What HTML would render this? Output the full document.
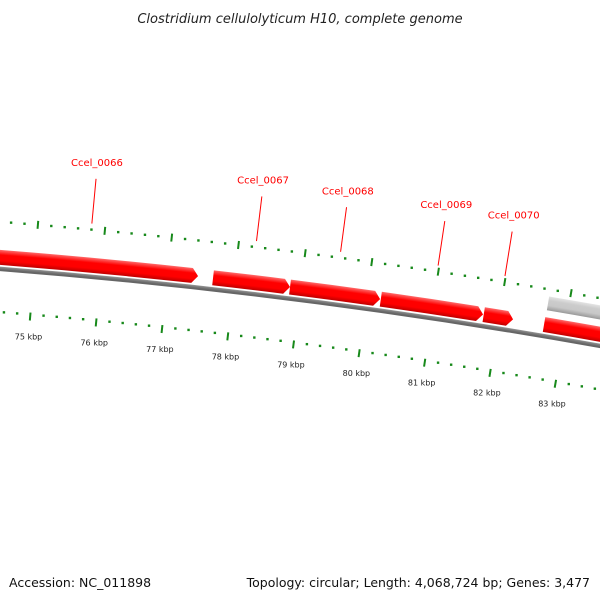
<!DOCTYPE html>
<html><head><meta charset="utf-8"><style>
html,body{margin:0;padding:0;background:#fff;}
svg{display:block;font-family:"DejaVu Sans","Liberation Sans",sans-serif;}
</style></head><body>
<svg id="chart" width="600" height="600" viewBox="0 0 600 600" xmlns="http://www.w3.org/2000/svg">
<defs>
<radialGradient id="redGrad" gradientUnits="userSpaceOnUse" cx="-482" cy="6401" r="6200">
<stop offset="0.99266" stop-color="#b80000"/>
<stop offset="0.99345" stop-color="#f00"/>
<stop offset="0.99435" stop-color="#f00"/>
<stop offset="0.99516" stop-color="#ff6a6a"/>
</radialGradient>
<radialGradient id="grayGrad" gradientUnits="userSpaceOnUse" cx="-482" cy="6401" r="6200">
<stop offset="0.99629" stop-color="#999"/>
<stop offset="0.99710" stop-color="#c8c8c8"/>
<stop offset="0.99790" stop-color="#ccc"/>
<stop offset="0.99855" stop-color="#e4e4e4"/>
</radialGradient>
<radialGradient id="bbGrad" gradientUnits="userSpaceOnUse" cx="-482" cy="6401" r="6200">
<stop offset="0.99198" stop-color="#666"/>
<stop offset="0.99235" stop-color="#888"/>
<stop offset="0.99265" stop-color="#bbb"/>
</radialGradient>
</defs>
<text x="300" y="23" text-anchor="middle" font-size="13" font-style="italic" fill="#222">Clostridium cellulolyticum H10, complete genome</text>
<g id="backbone"></g>
<g id="genes"></g>
<g id="ticks"></g>
<g id="labels"></g>
<text x="9" y="587" font-size="12.5" fill="#111">Accession: NC_011898</text>
<text x="590" y="587" text-anchor="end" font-size="12.5" fill="#111">Topology: circular; Length: 4,068,724 bp; Genes: 3,477</text>
</svg>
<script>
const geneNames = ["Ccel_0066","Ccel_0067","Ccel_0068","Ccel_0069","Ccel_0070","gene-gray","gene-right"];
const geneStarts = [74143, 77679, 78839, 80210, 81767, 82688, 82682];
const geneEnds   = [77453, 78839, 80199, 81757, 82212, 86000, 86000];
const geneKinds  = ["red","red","red","red","red","gray","red"];
const geneLabeled = [true,true,true,true,true,false,false];
const tickMajors = [73000,74000,75000,76000,77000,78000,79000,80000,81000,82000,83000,84000,85000];
const tickLabels = ["73 kbp","74 kbp","75 kbp","76 kbp","77 kbp","78 kbp","79 kbp","80 kbp","81 kbp","82 kbp","83 kbp","84 kbp","85 kbp"];

const NS="http://www.w3.org/2000/svg";
const CX=-482, CY=6401;
const A0=0.08398, APK=0.010843;
function ang(bp){return A0+(bp-75000)/1000*APK;}
function pt(r,a){return [CX+r*Math.sin(a), CY-r*Math.cos(a)];}
function f(v){return v.toFixed(2);}
function mk(tag,attrs,parent){const e=document.createElementNS(NS,tag);for(const k in attrs)e.setAttribute(k,attrs[k]);parent.appendChild(e);return e;}

// backbone
const bbG=document.getElementById('backbone');
{
  const a1=ang(70000),a2=ang(88000),r=6151;
  const p1=pt(r,a1),p2=pt(r,a2);
  const e=mk('path',{d:`M${f(p1[0])},${f(p1[1])} A${r},${r} 0 0 1 ${f(p2[0])},${f(p2[1])}`,fill:'none',stroke:'url(#bbGrad)','stroke-width':4.5},bbG);
  
  
}

// genes
const gG=document.getElementById('genes');
const labG=document.getElementById('labels');
for(let i=0;i<geneNames.length;i++){
  const gray=geneKinds[i]==='gray';
  const rIn=gray?6177:6155, rOut=gray?6191:6170, rMid=(rIn+rOut)/2;
  const a0=ang(geneStarts[i]), a1=ang(geneEnds[i]);
  const head=Math.min(6/rMid, (a1-a0)*0.5);
  const ah=a1-head;
  const p0o=pt(rOut,a0), pho=pt(rOut,ah), tip=pt(rMid,a1), phi=pt(rIn,ah), p0i=pt(rIn,a0);
  const d=`M${f(p0o[0])},${f(p0o[1])} A${rOut},${rOut} 0 0 1 ${f(pho[0])},${f(pho[1])} L${f(tip[0])},${f(tip[1])} L${f(phi[0])},${f(phi[1])} A${rIn},${rIn} 0 0 0 ${f(p0i[0])},${f(p0i[1])} Z`;
  const e=mk('path',{d:d,fill:gray?'url(#grayGrad)':'url(#redGrad)'},gG);
  
  
  if(geneLabeled[i]){
    const am=ang((geneStarts[i]+geneEnds[i])/2);
    const b=pt(6204,am), t=pt(6249,am), tx=pt(6259,am);
    const l=mk('line',{x1:f(b[0]),y1:f(b[1]),x2:f(t[0]),y2:f(t[1]),stroke:'#f00','stroke-width':1},labG);
    
    
    const tt=mk('text',{x:f(tx[0]),y:f(tx[1]-3),'text-anchor':'middle','font-size':10,fill:'#f00'},labG);
    tt.textContent=geneNames[i];
    
    
  }
}

// ticks
const tG=document.getElementById('ticks');
const green='#17891a';
for(let bp=72000;bp<=86000;bp+=200){
  const a=ang(bp);
  const major=(bp%1000===0);
  [[6198,'upper'],[6106,'lower']].forEach(([r,row])=>{
    if(major){
      const p1=pt(r-4,a),p2=pt(r+4,a);
      const e=mk('line',{x1:f(p1[0]),y1:f(p1[1]),x2:f(p2[0]),y2:f(p2[1]),stroke:green,'stroke-width':2},tG);
      
      
    } else {
      const p=pt(r+(row==='lower'?2:0),a);
      const e=mk('rect',{x:f(p[0]-1.2),y:f(p[1]-1.2),width:2.4,height:2.4,fill:green},tG);
      
      
    }
  });
}
for(let i=0;i<tickMajors.length;i++){
  const p=pt(6086,ang(tickMajors[i]));
  const e=mk('text',{x:f(p[0]),y:f(p[1]+3),'text-anchor':'middle','font-size':8,fill:'#222'},tG);
  e.textContent=tickLabels[i];
  
  
}
</script>
</body></html>
